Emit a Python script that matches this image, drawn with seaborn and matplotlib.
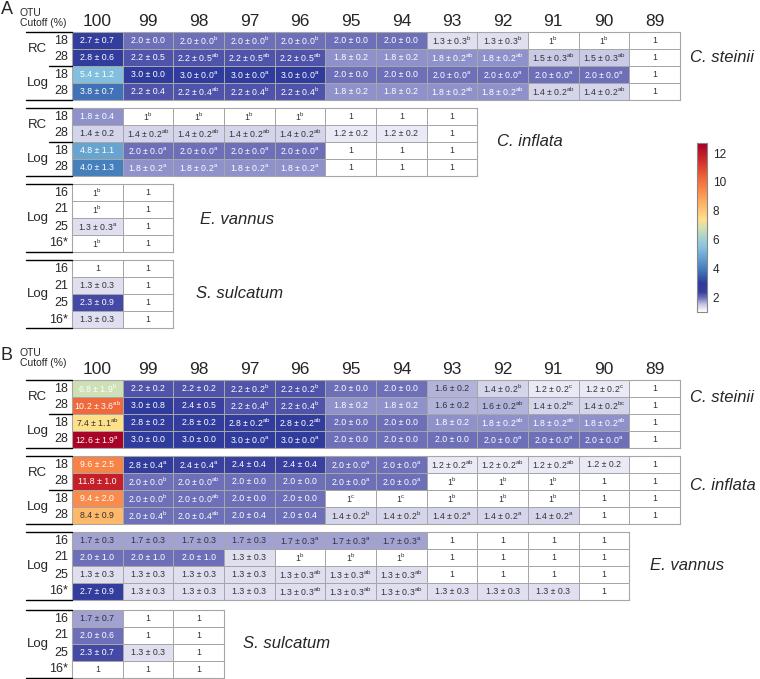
import numpy as np
import matplotlib
matplotlib.use("Agg")
import matplotlib.pyplot as plt
from matplotlib.colors import LinearSegmentedColormap, Normalize
from matplotlib.cm import ScalarMappable
from matplotlib.lines import Line2D
import seaborn as sns

sns.set_theme(style="white")
plt.rcParams["font.family"] = ["Liberation Sans", "DejaVu Sans"]

# OTU cutoffs (%) used as column headers
cutoffs = ["100", "99", "98", "97", "96", "95", "94", "93", "92", "91", "90", "89"]

# row labels
rows_rc_log = ["18", "28", "18", "28"]
rows_log = ["16", "21", "25", "16*"]

# cell notation: "mean±se|letter"
a_steinii = [
    ["2.7±0.7", "2.0±0.0", "2.0±0.0|b", "2.0±0.0|b", "2.0±0.0|b", "2.0±0.0", "2.0±0.0", "1.3±0.3|b", "1.3±0.3|b", "1|b", "1|b", "1"],
    ["2.8±0.6", "2.2±0.5", "2.2±0.5|ab", "2.2±0.5|ab", "2.2±0.5|ab", "1.8±0.2", "1.8±0.2", "1.8±0.2|ab", "1.8±0.2|ab", "1.5±0.3|ab", "1.5±0.3|ab", "1"],
    ["5.4±1.2", "3.0±0.0", "3.0±0.0|a", "3.0±0.0|a", "3.0±0.0|a", "2.0±0.0", "2.0±0.0", "2.0±0.0|a", "2.0±0.0|a", "2.0±0.0|a", "2.0±0.0|a", "1"],
    ["3.8±0.7", "2.2±0.4", "2.2±0.4|ab", "2.2±0.4|b", "2.2±0.4|b", "1.8±0.2", "1.8±0.2", "1.8±0.2|ab", "1.8±0.2|ab", "1.4±0.2|ab", "1.4±0.2|ab", "1"],
]
a_inflata = [
    ["1.8±0.4", "1|b", "1|b", "1|b", "1|b", "1", "1", "1"],
    ["1.4±0.2", "1.4±0.2|ab", "1.4±0.2|ab", "1.4±0.2|ab", "1.4±0.2|ab", "1.2±0.2", "1.2±0.2", "1"],
    ["4.8±1.1", "2.0±0.0|a", "2.0±0.0|a", "2.0±0.0|a", "2.0±0.0|a", "1", "1", "1"],
    ["4.0±1.3", "1.8±0.2|a", "1.8±0.2|a", "1.8±0.2|a", "1.8±0.2|a", "1", "1", "1"],
]
a_vannus = [
    ["1|b", "1"],
    ["1|b", "1"],
    ["1.3±0.3|a", "1"],
    ["1|b", "1"],
]
a_sulcatum = [
    ["1", "1"],
    ["1.3±0.3", "1"],
    ["2.3±0.9", "1"],
    ["1.3±0.3", "1"],
]
b_steinii = [
    ["6.8±1.9|b", "2.2±0.2", "2.2±0.2", "2.2±0.2|b", "2.2±0.2|b", "2.0±0.0", "2.0±0.0", "1.6±0.2", "1.4±0.2|b", "1.2±0.2|c", "1.2±0.2|c", "1"],
    ["10.2±3.6|ab", "3.0±0.8", "2.4±0.5", "2.2±0.4|b", "2.2±0.4|b", "1.8±0.2", "1.8±0.2", "1.6±0.2", "1.6±0.2|ab", "1.4±0.2|bc", "1.4±0.2|bc", "1"],
    ["7.4±1.1|ab", "2.8±0.2", "2.8±0.2", "2.8±0.2|ab", "2.8±0.2|ab", "2.0±0.0", "2.0±0.0", "1.8±0.2", "1.8±0.2|ab", "1.8±0.2|ab", "1.8±0.2|ab", "1"],
    ["12.6±1.9|a", "3.0±0.0", "3.0±0.0", "3.0±0.0|a", "3.0±0.0|a", "2.0±0.0", "2.0±0.0", "2.0±0.0", "2.0±0.0|a", "2.0±0.0|a", "2.0±0.0|a", "1"],
]
b_inflata = [
    ["9.6±2.5", "2.8±0.4|a", "2.4±0.4|a", "2.4±0.4", "2.4±0.4", "2.0±0.0|a", "2.0±0.0|a", "1.2±0.2|ab", "1.2±0.2|ab", "1.2±0.2|ab", "1.2±0.2", "1"],
    ["11.8±1.0", "2.0±0.0|b", "2.0±0.0|ab", "2.0±0.0", "2.0±0.0", "2.0±0.0|a", "2.0±0.0|a", "1|b", "1|b", "1|b", "1", "1"],
    ["9.4±2.0", "2.0±0.0|b", "2.0±0.0|ab", "2.0±0.0", "2.0±0.0", "1|c", "1|c", "1|b", "1|b", "1|b", "1", "1"],
    ["8.4±0.9", "2.0±0.4|b", "2.0±0.4|ab", "2.0±0.4", "2.0±0.4", "1.4±0.2|b", "1.4±0.2|b", "1.4±0.2|a", "1.4±0.2|a", "1.4±0.2|a", "1", "1"],
]
b_vannus = [
    ["1.7±0.3", "1.7±0.3", "1.7±0.3", "1.7±0.3", "1.7±0.3|a", "1.7±0.3|a", "1.7±0.3|a", "1", "1", "1", "1"],
    ["2.0±1.0", "2.0±1.0", "2.0±1.0", "1.3±0.3", "1|b", "1|b", "1|b", "1", "1", "1", "1"],
    ["1.3±0.3", "1.3±0.3", "1.3±0.3", "1.3±0.3", "1.3±0.3|ab", "1.3±0.3|ab", "1.3±0.3|ab", "1", "1", "1", "1"],
    ["2.7±0.9", "1.3±0.3", "1.3±0.3", "1.3±0.3", "1.3±0.3|ab", "1.3±0.3|ab", "1.3±0.3|ab", "1.3±0.3", "1.3±0.3", "1.3±0.3", "1"],
]
b_sulcatum = [
    ["1.7±0.7", "1", "1"],
    ["2.0±0.6", "1", "1"],
    ["2.3±0.7", "1.3±0.3", "1"],
    ["1", "1", "1"],
]

# colour scale (white -> purple -> navy -> blue -> yellow -> red)
cmap_stops = [
    (1.0, "#ffffff"), (1.5, "#c4c5e3"), (2.0, "#6668b6"), (2.4, "#363d9e"),
    (3.0, "#2f3c9d"), (4.0, "#4580bd"), (5.5, "#86c3e0"), (6.8, "#cfe0b5"),
    (7.4, "#fee08b"), (8.5, "#fdb366"), (9.5, "#f8884a"), (10.3, "#ef663a"),
    (11.5, "#d12c2c"), (12.7, "#a50026"),
]
vmin, vmax = 1.0, 12.7
cmap = LinearSegmentedColormap.from_list(
    "otu", [((v - vmin) / (vmax - vmin), c) for v, c in cmap_stops])

W, H = 760, 679
fig = plt.figure(figsize=(W / 100, H / 100), dpi=100)


def px_axes(x0, y0, x1, y1):
    return fig.add_axes([x0 / W, 1 - y1 / H, (x1 - x0) / W, (y1 - y0) / H])


def parse(cell):
    val, _, sup = cell.partition("|")
    mean = float(val.split("±")[0])
    text = val.replace("±", " ± ")
    if sup:
        text += r"$^{\mathregular{%s}}$" % sup
    return mean, text


def hline(x0, x1, y, lw=1.0, color="black"):
    fig.add_artist(Line2D([x0 / W, x1 / W], [1 - y / H, 1 - y / H], lw=lw, color=color))


x_left = 72
col_w = (680 - 72) / 12
row_h = 17

blocks = [
    # data, rows, rc/log?, top, header, species, label pos
    (a_steinii, rows_rc_log, True, 32, True, "C. steinii", (690, 57)),
    (a_inflata, rows_rc_log, True, 108, False, "C. inflata", (497, 141)),
    (a_vannus, rows_log, False, 184, False, "E. vannus", (200, 219)),
    (a_sulcatum, rows_log, False, 260, False, "S. sulcatum", (196, 294)),
    (b_steinii, rows_rc_log, True, 380, True, "C. steinii", (690, 397)),
    (b_inflata, rows_rc_log, True, 456, False, "C. inflata", (690, 485)),
    (b_vannus, rows_log, False, 532, False, "E. vannus", (650, 566)),
    (b_sulcatum, rows_log, False, 610, False, "S. sulcatum", (243, 643)),
]

for data, rows, rc_log, top, header, species, (sx, sy) in blocks:
    parsed = [[parse(c) for c in r] for r in data]
    means = np.array([[p[0] for p in r] for r in parsed])
    texts = np.array([[p[1] for p in r] for r in parsed], dtype=object)
    ncol = means.shape[1]
    ax = px_axes(x_left, top, x_left + ncol * col_w, top + 4 * row_h)
    sns.heatmap(means, ax=ax, cmap=cmap, vmin=vmin, vmax=vmax, cbar=False,
                annot=texts, fmt="", annot_kws={"fontsize": 6.3},
                linewidths=0.7, linecolor="#a6a6a6",
                xticklabels=cutoffs[:ncol] if header else False,
                yticklabels=rows)
    for t, m in zip(ax.texts, means.flat):
        light = m > 1.7 and not (7 <= m < 9)
        t.set_color("white" if light else "#333333")
    for s in ax.spines.values():
        s.set_visible(True)
        s.set_color("#a6a6a6")
        s.set_linewidth(0.8)
    ax.tick_params(axis="y", length=0, pad=3, labelsize=9, rotation=0)
    if header:
        ax.xaxis.tick_top()
        ax.tick_params(axis="x", length=0, pad=2, labelsize=12.5, rotation=0)

    hline(26, 72, top)
    hline(26, 72, top + 4 * row_h)
    if rc_log:
        hline(49, 72, top + 2 * row_h)
        fig.text(37 / W, 1 - (top + row_h) / H, "RC", fontsize=9.5, ha="center", va="center")
        fig.text(38 / W, 1 - (top + 3 * row_h) / H, "Log", fontsize=9.5, ha="center", va="center")
    else:
        fig.text(38 / W, 1 - (top + 2 * row_h) / H, "Log", fontsize=9.5, ha="center", va="center")

    fig.text(sx / W, 1 - sy / H, species, fontsize=12, style="italic", ha="left", va="center")

# panel letters and header captions
for letter, ly, oy, cy in [("A", 9, 13, 23), ("B", 356, 353, 363)]:
    fig.text(1 / W, 1 - ly / H, letter, fontsize=13, va="center")
    fig.text(20 / W, 1 - oy / H, "OTU", fontsize=7.5, va="center")
    fig.text(20 / W, 1 - cy / H, "Cutoff (%)", fontsize=7.5, va="center")

# colour bar
cax = px_axes(697, 143, 707, 312)
sm = ScalarMappable(norm=Normalize(vmin, vmax), cmap=cmap)
cb = fig.colorbar(sm, cax=cax, ticks=[2, 4, 6, 8, 10, 12])
cb.outline.set_edgecolor("#888888")
cb.outline.set_linewidth(0.8)
cax.tick_params(length=0, labelsize=8.5, pad=4)

fig.savefig("out.png", dpi=100)
